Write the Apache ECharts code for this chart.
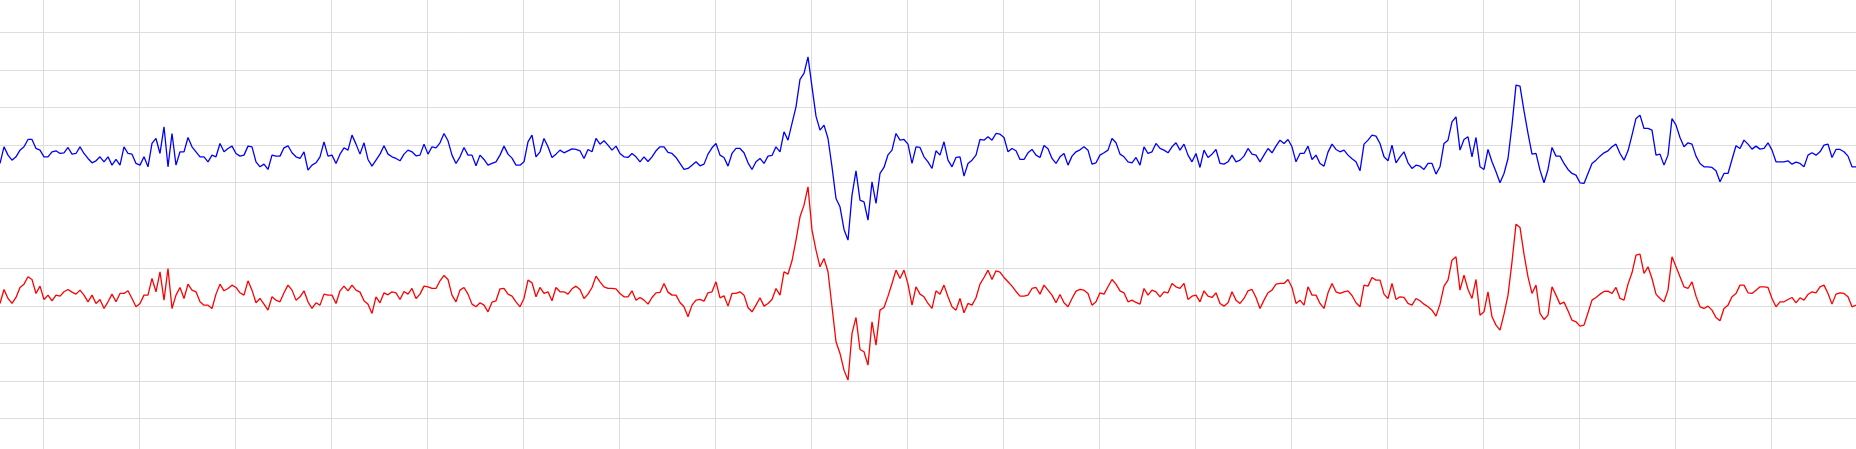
<!DOCTYPE html>
<html>
<head>
<meta charset="utf-8">
<script src="https://cdn.jsdelivr.net/npm/echarts@6/dist/echarts.min.js"></script>
<style>
html,body{margin:0;padding:0;background:#ffffff;}
#chart{width:1856px;height:449px;}
</style>
</head>
<body>
<div id="chart"></div>
<script>
// Upper trace (blue), raw counts, one value per sample
const blueTrace = [
-56,-6,-31,-46,-36,-16,-6,16,16,-11,-16,-36,-36,-21,-18,-26,-24,-8,-28,-26,-6,-26,-41,-54,-48,-36,-51,-36,-61,-44,-61,-6,-26,-28,-56,-61,-36,-66,4,19,-26,54,-66,34,-61,-21,-21,22,-6,-21,-36,-36,-51,-31,-36,4,-21,-11,
-4,-26,-34,-31,-4,-6,-51,-66,-58,-74,-31,-34,-34,-9,-3,-24,-36,-41,-21,-76,-61,-54,-36,9,-34,-31,-56,-28,-9,-16,29,2,-28,6,-44,-64,-46,-28,-3,-28,-36,-41,-48,-28,-16,-21,-33,-31,2,-28,-6,-9,6,34,12,-31,-56,-36,
-8,-31,-31,-63,-31,-44,-61,-56,-51,-31,-4,-28,-40,-61,-61,-51,9,29,-36,-21,19,-6,-38,-28,-16,-24,-18,-12,-14,-18,-41,-14,-21,19,2,12,-1,-16,-4,-26,-36,-38,-26,-36,-51,-36,-50,-36,-18,-6,-6,-23,-26,-38,-56,-74,-71,-61,
-51,-63,-58,-28,-9,4,-31,-38,-64,-26,-11,-11,-24,-54,-74,-51,-41,-56,-34,-32,-6,-21,39,14,64,114,196,214,264,174,86,44,59,19,-66,-161,-186,-254,-286,-151,-78,-166,-171,-226,-111,-176,-86,-68,-30,-16,34,14,16,2,-56,-6,-8,-36,
-51,-71,-18,-31,9,-46,-66,-38,-36,-94,-56,-46,-31,16,14,24,14,34,32,22,-21,-11,-18,-44,-44,-24,-14,-31,-38,-2,-12,-41,-56,-36,-26,-61,-34,-21,-15,-6,-16,-58,-54,-31,-24,-16,19,6,-28,-36,-51,-54,-38,-61,-6,-26,-21,4,
-11,-16,-24,-6,6,-16,2,-31,-51,-26,-68,-16,-38,-28,-14,-56,-58,-51,-31,-51,-46,-34,-11,-28,-31,-51,-31,-11,-24,-4,14,4,16,-6,-51,-26,-26,-4,-44,-31,-56,-64,-22,2,-14,-21,-16,-31,-42,-51,-78,2,14,29,26,4,-36,-48,
-1,-54,-36,-21,-54,-71,-61,-64,-74,-56,-56,-88,-66,4,14,69,84,-16,16,24,-36,22,-66,-74,-14,-51,-81,-114,-86,-41,59,179,176,102,34,-28,-26,-76,-114,-74,-8,-34,-34,-56,-74,-86,-91,-114,-116,-86,-56,-46,-34,-24,-18,-6,2,-26,
-46,-18,29,79,89,49,49,44,-31,-28,-61,-31,79,59,22,-6,6,2,-34,-56,-66,-66,-68,-78,-111,-86,-86,-44,-3,-11,14,2,-13,-4,-13,-11,6,-16,-51,-51,-51,-48,-58,-52,-56,-66,-31,-24,-31,-21,-1,2,-38,-14,-14,-21,-34,-66,-66
];

// Lower trace (red), raw counts, one value per sample
const redTrace = [
7,49,22,7,25,55,65,87,79,37,59,19,32,15,32,29,42,49,41,35,47,32,12,32,7,19,-8,12,35,12,37,37,45,22,-3,7,32,32,82,42,102,17,112,-8,32,55,22,65,47,42,12,2,2,-8,35,65,45,52,
62,55,39,32,75,47,9,22,5,-13,27,17,12,39,62,47,17,27,45,12,-8,9,2,35,32,32,7,45,59,45,62,47,41,15,5,-23,27,9,39,33,42,39,19,43,35,52,22,35,59,57,52,52,75,91,79,32,12,47,
55,35,5,-3,9,2,-18,11,15,51,52,35,29,12,-3,22,77,69,27,55,37,42,15,55,42,42,35,51,59,49,22,35,55,89,72,57,52,52,51,37,27,27,45,17,25,17,5,25,39,40,67,41,32,32,10,-3,-33,2,
17,19,14,39,42,72,24,30,-1,37,37,42,32,-5,-18,2,24,-1,7,19,52,32,102,95,135,197,267,302,357,227,167,117,142,102,-3,-108,-143,-193,-223,-83,-35,-131,-138,-178,-48,-118,-13,-5,29,67,107,82,107,65,2,57,35,27,
7,-8,45,35,62,27,-3,-13,22,-21,7,2,24,65,85,107,79,105,101,85,72,59,43,29,29,32,52,55,35,62,47,32,9,34,9,-3,22,44,49,47,37,2,12,39,35,57,79,65,45,39,12,17,10,5,52,32,47,42,
27,42,39,67,57,52,67,19,29,32,12,45,29,25,39,7,-1,9,42,17,7,22,45,49,25,-8,17,39,47,65,67,67,79,55,7,17,2,57,32,32,7,-8,39,67,42,37,42,45,31,9,-3,62,59,85,77,77,35,22,
67,19,27,25,7,2,22,15,5,-3,-13,-31,5,59,77,137,147,47,92,49,22,79,-28,-18,42,-33,-58,-73,-25,32,132,245,235,155,87,37,62,-23,-41,-28,57,32,5,11,-15,-43,-48,-61,-58,-21,17,25,35,43,44,37,55,22,
17,65,99,152,155,97,117,82,35,22,12,47,147,117,87,57,52,72,29,-3,-8,-1,-13,-35,-45,-8,2,27,37,62,62,39,37,47,57,57,55,22,-3,12,12,19,25,9,24,17,34,42,39,57,62,37,5,35,39,37,27,-3,2
];

const firstSample = 13.175;   // sample number of the first value
const timeRange = [0, 480];   // visible time axis (samples)
const timeDivision = 24;      // samples per vertical grid division
const ampDivision = 112.5;    // counts per horizontal grid division
const blueRange = [-112.5, 450];
const redRange = [-450, 112.5];

const toPoints = arr => arr.map((v, i) => [firstSample + i, v]);

const gridColor = '#dddddd';
const gridLeft = -52.7, gridWidth = 1920;

const chart = echarts.init(document.getElementById('chart'), null, {renderer: 'canvas'});

const ySplit = {show: true, lineStyle: {color: gridColor, width: 1}};
const gridBase = {left: gridLeft, width: gridWidth, containLabel: false, outerBoundsMode: 'none'};

chart.setOption({
  animation: false,
  backgroundColor: '#ffffff',
  grid: [
    Object.assign({top: 0, height: 449}, gridBase),
    Object.assign({top: -5.2, height: 187.5}, gridBase),
    Object.assign({top: 268.3, height: 187.5}, gridBase)
  ],
  xAxis: [
    {gridIndex: 0, type: 'value', min: timeRange[0], max: timeRange[1], interval: timeDivision,
     axisLine: {show: false}, axisTick: {show: false}, axisLabel: {show: false},
     splitLine: {show: true, lineStyle: {color: gridColor, width: 1}}},
    {gridIndex: 1, type: 'value', min: timeRange[0], max: timeRange[1], show: false},
    {gridIndex: 2, type: 'value', min: timeRange[0], max: timeRange[1], show: false}
  ],
  yAxis: [
    {gridIndex: 0, type: 'value', show: false, min: 0, max: 1},
    {gridIndex: 1, type: 'value', min: blueRange[0], max: blueRange[1], interval: ampDivision,
     axisLine: {show: false}, axisTick: {show: false}, axisLabel: {show: false}, splitLine: ySplit},
    {gridIndex: 2, type: 'value', min: redRange[0], max: redRange[1], interval: ampDivision,
     axisLine: {show: false}, axisTick: {show: false}, axisLabel: {show: false}, splitLine: ySplit}
  ],
  series: [
    {type: 'line', xAxisIndex: 1, yAxisIndex: 1, data: toPoints(blueTrace),
     symbol: 'none', showSymbol: false, clip: false, silent: true,
     lineStyle: {color: '#0000ff', width: 1.3}},
    {type: 'line', xAxisIndex: 2, yAxisIndex: 2, data: toPoints(redTrace),
     symbol: 'none', showSymbol: false, clip: false, silent: true,
     lineStyle: {color: '#ff0000', width: 1.3}}
  ]
});
</script>
</body>
</html>
